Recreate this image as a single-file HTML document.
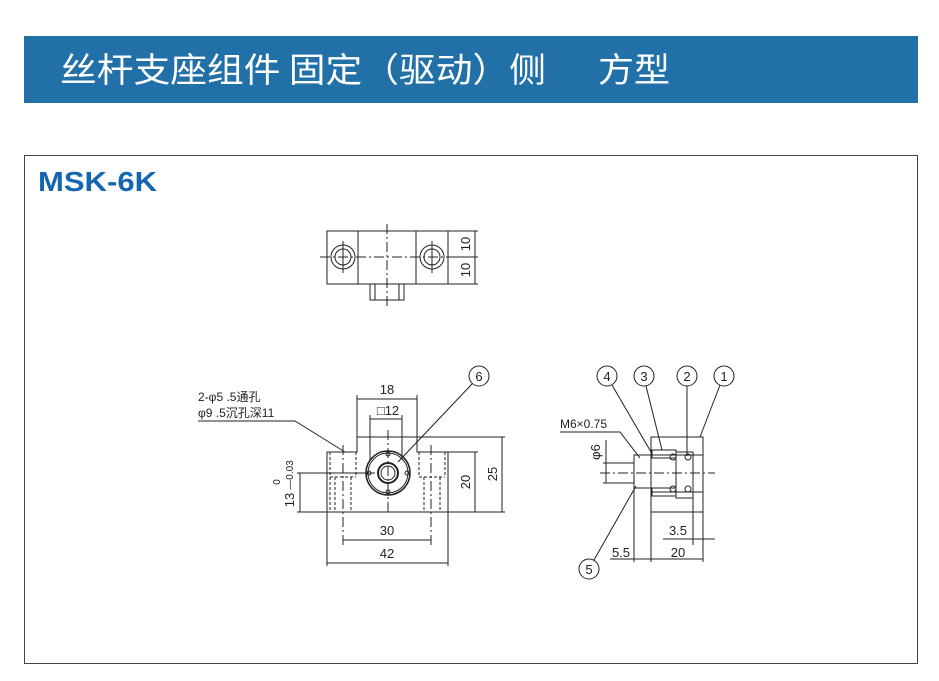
<!DOCTYPE html>
<html><head><meta charset="utf-8"><style>
body{margin:0;background:#fff;width:939px;height:676px;overflow:hidden;font-family:"Liberation Sans","Noto Sans CJK SC",sans-serif}
</style></head><body>
<svg width="939" height="676" viewBox="0 0 939 676" xmlns="http://www.w3.org/2000/svg" font-family="Liberation Sans, Noto Sans CJK SC, sans-serif">
<rect x="24" y="36" width="894" height="67" fill="#2270a8"/>
<text x="60" y="82" fill="#fff" font-size="34" font-family="Noto Sans CJK SC, sans-serif" textLength="486" lengthAdjust="spacingAndGlyphs">丝杆支座组件 固定（驱动）侧</text>
<text x="598" y="82" fill="#fff" font-size="34" font-family="Noto Sans CJK SC, sans-serif" textLength="72" lengthAdjust="spacingAndGlyphs">方型</text>
<rect x="24.5" y="155.5" width="893" height="508" fill="none" stroke="#444" stroke-width="1"/>
<text x="38" y="191" fill="#1466b0" font-size="28" font-weight="bold" textLength="119" lengthAdjust="spacingAndGlyphs">MSK-6K</text>
<g stroke="#222" stroke-width="1" fill="none">
<!-- top view -->
<rect x="327" y="231" width="121" height="53"/>
<line x1="358" y1="231" x2="358" y2="284"/><line x1="416" y1="231" x2="416" y2="284"/>
<circle cx="343" cy="257" r="12"/><circle cx="343" cy="257" r="8"/>
<circle cx="432" cy="257" r="12"/><circle cx="432" cy="257" r="8"/>
<rect x="370" y="284" width="34" height="16"/><line x1="375" y1="284" x2="375" y2="300"/><line x1="399" y1="284" x2="399" y2="300"/>
<line x1="320" y1="257" x2="455" y2="257" stroke-dasharray="10,3,2,3"/>
<line x1="387" y1="224" x2="387" y2="306" stroke-dasharray="10,3,2,3"/>
<line x1="343" y1="241" x2="343" y2="273"/><line x1="432" y1="241" x2="432" y2="273"/>
<line x1="448" y1="231" x2="478" y2="231"/><line x1="448" y1="284" x2="478" y2="284"/><line x1="455" y1="257" x2="478" y2="257"/>
<line x1="475" y1="231" x2="475" y2="284"/>
<!-- front view -->
<path d="M327 452 H357 V437 H417 V452 H448 V512 H327 Z"/>
<circle cx="388" cy="473" r="22" stroke-width="1.5"/><circle cx="388" cy="473" r="20"/>
<circle cx="388" cy="473" r="10" stroke-width="2"/><circle cx="388" cy="473" r="7"/>
<circle cx="388" cy="454" r="2"/><circle cx="388" cy="492" r="2"/><circle cx="369" cy="473" r="2"/><circle cx="407" cy="473" r="2"/>
<g stroke-dasharray="3,2"><line x1="330" y1="452" x2="330" y2="512"/><line x1="356" y1="452" x2="356" y2="477"/><line x1="330" y1="477" x2="356" y2="477"/><line x1="335" y1="477" x2="335" y2="512"/><line x1="351" y1="477" x2="351" y2="512"/>
<line x1="419" y1="452" x2="419" y2="477"/><line x1="445" y1="452" x2="445" y2="477"/><line x1="419" y1="477" x2="445" y2="477"/><line x1="424" y1="477" x2="424" y2="512"/><line x1="440" y1="477" x2="440" y2="512"/></g>
<line x1="343" y1="445" x2="343" y2="545" stroke-dasharray="10,3,2,3"/><line x1="431" y1="445" x2="431" y2="545" stroke-dasharray="10,3,2,3"/>
<line x1="388" y1="430" x2="388" y2="515" stroke-dasharray="10,3,2,3"/>
<line x1="297" y1="473" x2="375" y2="473"/><line x1="297" y1="512" x2="327" y2="512"/>
<line x1="300" y1="473" x2="300" y2="512"/>
<line x1="357" y1="395" x2="357" y2="437"/><line x1="417" y1="395" x2="417" y2="437"/><line x1="357" y1="399" x2="417" y2="399"/>
<line x1="370" y1="415" x2="370" y2="460"/><line x1="402" y1="415" x2="402" y2="460"/><line x1="370" y1="419" x2="402" y2="419"/>
<line x1="417" y1="437" x2="505" y2="437"/><line x1="448" y1="452" x2="478" y2="452"/><line x1="448" y1="512" x2="505" y2="512"/>
<line x1="502" y1="437" x2="502" y2="512"/><line x1="475" y1="452" x2="475" y2="512"/>
<line x1="327" y1="512" x2="327" y2="566"/><line x1="448" y1="512" x2="448" y2="566"/>
<line x1="343" y1="540" x2="431" y2="540"/><line x1="327" y1="563" x2="448" y2="563"/>
<circle cx="479" cy="376" r="10"/><line x1="472" y1="384" x2="398" y2="462"/>
<path d="M198 421 H295 L345 452"/>
<!-- side view -->
<rect x="651" y="437" width="52" height="75"/>
<line x1="693" y1="455" x2="693" y2="545"/>
<line x1="651" y1="455" x2="703" y2="455"/><line x1="651" y1="492" x2="703" y2="492"/>
<rect x="634" y="455" width="17" height="33"/>
<rect x="652" y="450" width="24" height="8"/><rect x="652" y="488" width="24" height="8"/>
<rect x="676" y="452" width="17" height="46"/>
<circle cx="673" cy="457" r="3"/><circle cx="688" cy="457" r="3"/><circle cx="673" cy="489" r="3"/><circle cx="688" cy="489" r="3"/>
<line x1="600" y1="473" x2="715" y2="473" stroke-dasharray="10,3,2,3"/>
<line x1="603" y1="463" x2="634" y2="463"/><line x1="603" y1="483" x2="634" y2="483"/><line x1="606" y1="440" x2="606" y2="483"/>
<circle cx="607" cy="376" r="10"/><circle cx="644" cy="376" r="10"/><circle cx="687" cy="376" r="10"/><circle cx="724" cy="376" r="10"/>
<circle cx="589" cy="569" r="10"/>
<line x1="612" y1="385" x2="651" y2="452"/><line x1="646" y1="386" x2="662" y2="450"/><line x1="687" y1="386" x2="687" y2="456"/><line x1="720" y1="385" x2="700" y2="437"/>
<line x1="594" y1="560" x2="636" y2="486"/>
<path d="M560 432 H620 L640 458"/>
<line x1="634" y1="488" x2="634" y2="562"/><line x1="651" y1="512" x2="651" y2="562"/><line x1="703" y1="512" x2="703" y2="562"/>
<line x1="663" y1="539" x2="715" y2="539"/>
<line x1="610" y1="559" x2="703" y2="559"/>
</g>
<g font-size="13" fill="#222" text-anchor="middle">
<text transform="translate(470,244) rotate(-90)">10</text><text transform="translate(470,270) rotate(-90)">10</text>
<text x="387" y="394">18</text><text x="388" y="415">□12</text>
<text transform="translate(497,474) rotate(-90)">25</text><text transform="translate(470,482) rotate(-90)">20</text>
<text x="387" y="535">30</text><text x="387" y="558">42</text>
<text transform="translate(294,500) rotate(-90)">13</text>
<text transform="translate(280,482) rotate(-90)" font-size="10">0</text>
<text transform="translate(293,475) rotate(-90)" font-size="10">—0.03</text>
<text x="479" y="381">6</text><text x="607" y="381">4</text><text x="644" y="381">3</text><text x="687" y="381">2</text><text x="724" y="381">1</text><text x="589" y="574">5</text>
<text transform="translate(600,452) rotate(-90)">φ6</text>
<text x="678" y="535">3.5</text><text x="678" y="557">20</text><text x="621" y="557">5.5</text>
</g>
<g font-size="12" fill="#222">
<text x="198" y="401">2-φ5 .5通孔</text><text x="198" y="417">φ9 .5沉孔深11</text>
<text x="560" y="428">M6×0.75</text>
</g>
</svg>
</body></html>
